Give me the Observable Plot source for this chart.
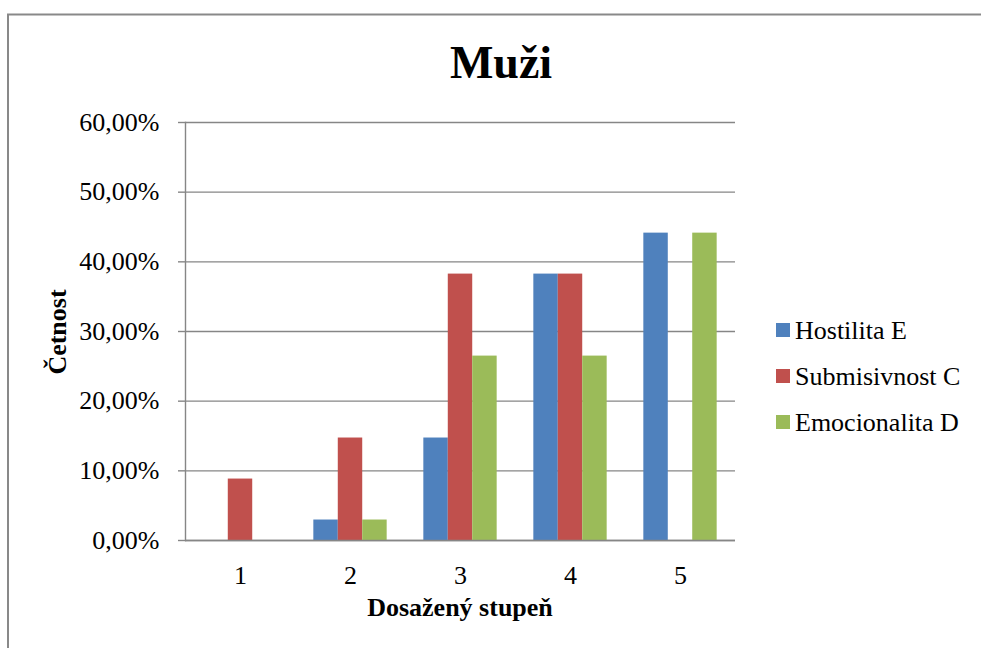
<!DOCTYPE html>
<html><head><meta charset="utf-8">
<script src="https://cdn.jsdelivr.net/npm/d3@7"></script>
<script src="https://cdn.jsdelivr.net/npm/@observablehq/plot@0.6"></script>
<style>
body{margin:0;background:#fff;}
#chart{position:relative;width:981px;height:648px;overflow:hidden;}
</style>
</head><body><div id="chart"></div>
<script>
const categories = ["1", "2", "3", "4", "5"];
const seriesNames = ["Hostilita E", "Submisivnost C", "Emocionalita D"];
const hostilita = [0, 2.94, 14.71, 38.24, 44.12];
const submisivnost = [8.82, 14.71, 38.24, 38.24, 0];
const emocionalita = [0, 2.94, 26.47, 26.47, 44.12];
const seriesColors = ["#4F81BD", "#C0504D", "#9BBB59"];
const yTicks = [0, 10, 20, 30, 40, 50, 60];
const titleText = "Muži";
const xTitle = "Dosažený stupeň";
const yTitle = "Četnost";

const values = [hostilita, submisivnost, emocionalita];
const data = categories.flatMap((c, i) => seriesNames.map((s, j) => ({category: c, series: s, value: values[j][i]})));
const fmt = d => d.toFixed(2).replace(".", ",") + "%";
const FONT = "'Liberation Serif', 'Times New Roman', serif";
const GRID = "#868686";

const plot = Plot.plot({
  width: 981, height: 648,
  marginLeft: 185, marginRight: 246, marginTop: 122, marginBottom: 108,
  style: {fontFamily: FONT, background: "transparent", color: "#000", overflow: "visible"},
  fx: {domain: categories, padding: 0, round: false, label: null},
  x: {domain: seriesNames, paddingInner: 0, paddingOuter: 0.75, round: false, axis: null},
  y: {domain: [0, 60], label: null},
  color: {domain: seriesNames, range: seriesColors},
  marks: [
    Plot.gridY(yTicks, {stroke: GRID, strokeOpacity: 1, strokeWidth: 1.4}),
    Plot.barY(data, {fx: "category", x: "series", y: "value", fill: "series"}),
    Plot.ruleY([0], {stroke: GRID, strokeWidth: 1.4}),
    Plot.frame({anchor: "left", facetAnchor: "left", stroke: GRID, strokeWidth: 1.4}),
    Plot.axisY(yTicks, {tickSize: 7, tickPadding: 19, tickFormat: fmt, fontSize: 26, stroke: GRID, strokeWidth: 1.4, fill: "#000", label: null}),
    Plot.axisFx({anchor: "bottom", tickSize: 0, tickPadding: 25, fontSize: 26, fill: "#000", label: null})
  ]
});

const svg = d3.select(plot);
svg.append("path").attr("d", "M8,660V14.5H990").attr("fill", "none").attr("stroke", "#898989").attr("stroke-width", 2);
svg.append("text").text(titleText).attr("x", 501).attr("y", 78).attr("text-anchor", "middle")
  .attr("font-family", FONT).attr("font-weight", "bold").attr("font-size", 46).attr("fill", "#000");
svg.append("text").text(yTitle).attr("transform", "translate(66,332) rotate(-90)").attr("text-anchor", "middle")
  .attr("font-family", FONT).attr("font-weight", "bold").attr("font-size", 26).attr("fill", "#000");
svg.append("text").text(xTitle).attr("x", 460).attr("y", 616).attr("text-anchor", "middle")
  .attr("font-family", FONT).attr("font-weight", "bold").attr("font-size", 26).attr("fill", "#000");
const leg = svg.append("g");
seriesNames.forEach((s, i) => {
  leg.append("rect").attr("x", 776).attr("y", 323 + i * 46).attr("width", 14).attr("height", 14).attr("fill", seriesColors[i]);
  leg.append("text").text(s).attr("x", 795).attr("y", 339 + i * 46).attr("text-anchor", "start")
    .attr("font-family", FONT).attr("font-size", 26).attr("fill", "#000");
});
document.getElementById("chart").appendChild(plot);
</script>
</body></html>
